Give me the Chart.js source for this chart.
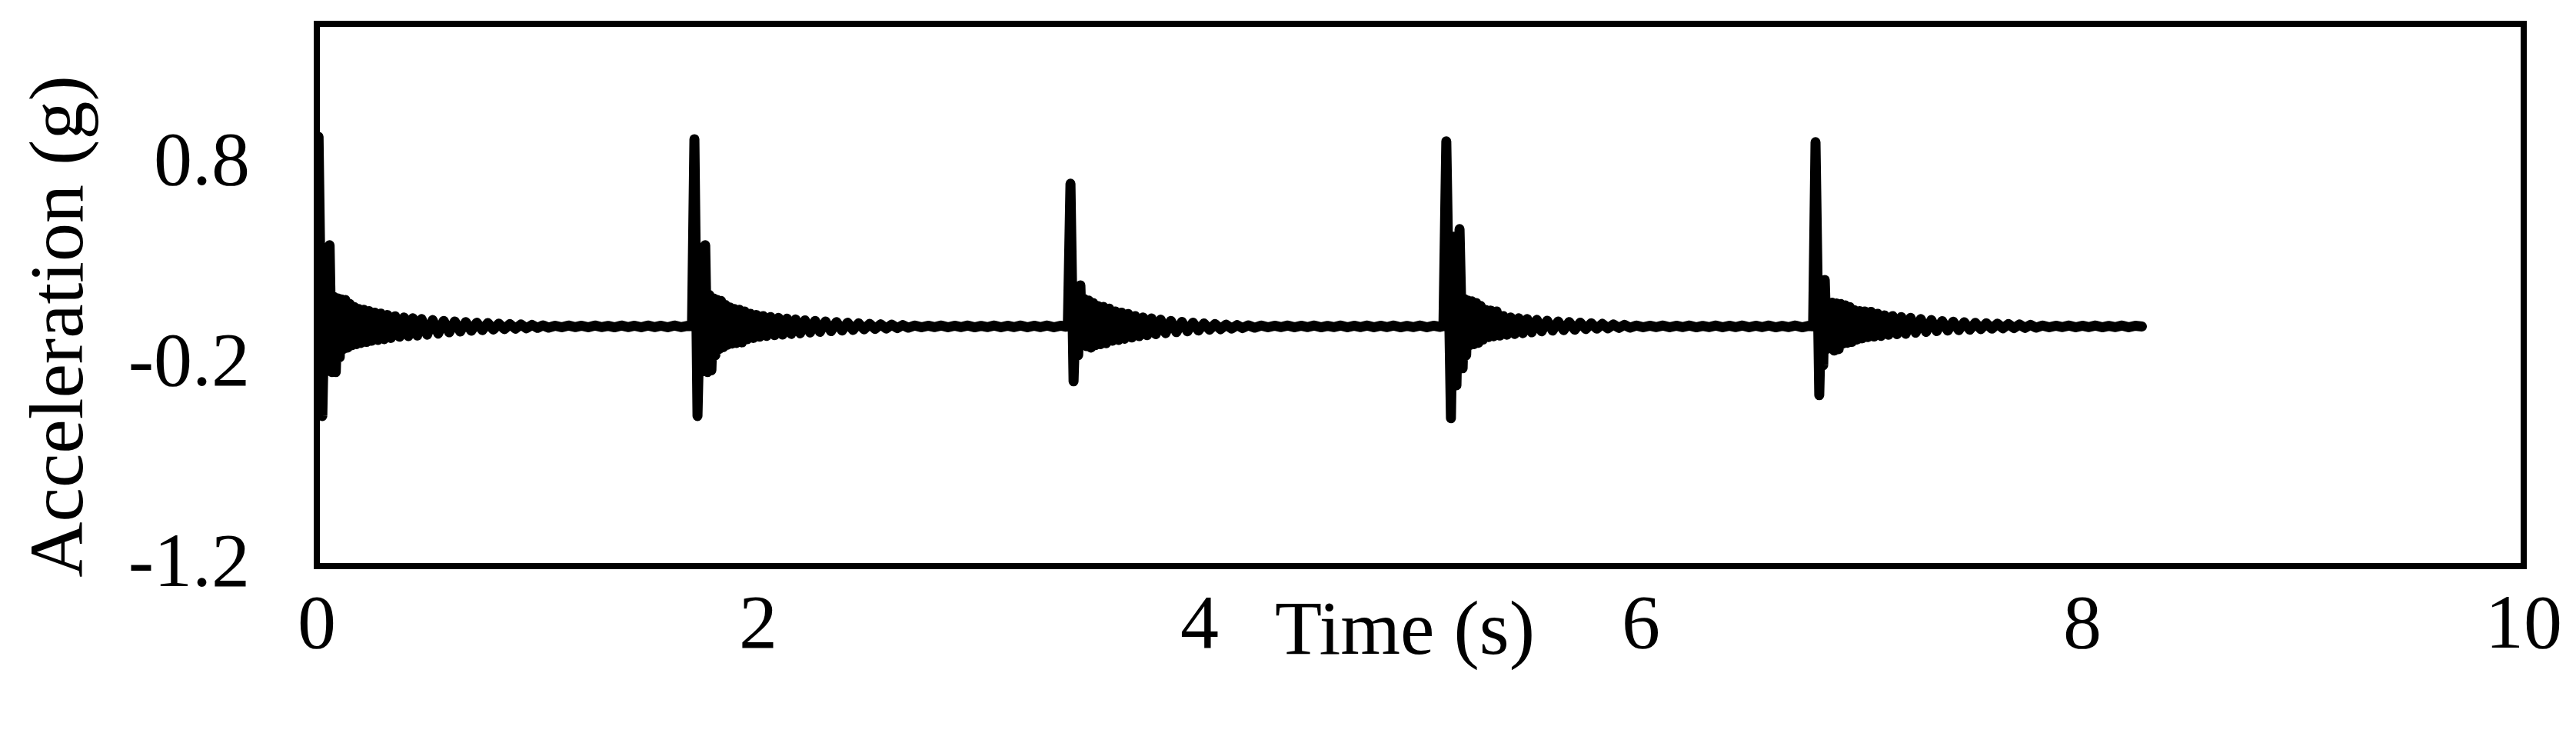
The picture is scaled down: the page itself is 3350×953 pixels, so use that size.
<!DOCTYPE html>
<html>
<head>
<meta charset="utf-8">
<title>Acceleration vs time</title>
<script src="https://cdn.jsdelivr.net/npm/chart.js@4.4.1/dist/chart.umd.min.js"></script>
<style>
  html, body { margin: 0; padding: 0; background: #fff; }
  canvas { display: block; }
</style>
</head>
<body>
<canvas id="accel-chart" width="3350" height="953"></canvas>
<script>
// axis ticks
const xTicks = [0, 2, 4, 6, 8, 10];
const yTicks = [-1.2, -0.2, 0.8];

// readings taken off the trace, one array per impact: [time (s), acceleration (g)]
const hit1 = [
  [0.000, -0.006], [0.008, 0.938], [0.025, -0.453], [0.040, 0.370], [0.048, -0.220], [0.058, 0.398], [0.068, -0.234], [0.078, 0.140], [0.086, -0.234], [0.096, 0.133],
  [0.104, -0.160], [0.112, 0.128], [0.120, -0.120], [0.130, 0.125], [0.140, -0.112], [0.150, 0.105], [0.160, -0.100], [0.170, 0.090], [0.180, -0.095], [0.190, 0.080],
  [0.200, -0.089], [0.212, 0.076], [0.224, -0.084], [0.236, 0.070], [0.248, -0.078], [0.262, 0.062], [0.276, -0.074], [0.290, 0.057], [0.305, -0.070], [0.320, 0.050],
  [0.335, -0.064], [0.355, 0.044], [0.375, -0.058], [0.395, 0.038], [0.415, -0.055], [0.435, 0.034], [0.455, -0.052], [0.475, 0.030], [0.500, -0.048], [0.525, 0.025],
  [0.550, -0.042], [0.575, 0.021], [0.600, -0.036], [0.625, 0.018], [0.650, -0.032], [0.675, 0.015], [0.700, -0.028], [0.725, 0.012], [0.750, -0.025], [0.775, 0.010],
  [0.800, -0.022], [0.825, 0.007], [0.850, -0.020], [0.875, 0.005], [0.900, -0.018], [0.925, 0.003], [0.950, -0.016], [0.975, 0.001], [1.000, -0.014], [1.025, -0.001],
  [1.050, -0.013], [1.080, -0.003], [1.110, -0.011], [1.140, -0.002], [1.170, -0.010], [1.200, -0.003], [1.230, -0.011], [1.260, -0.002], [1.290, -0.010], [1.320, -0.004],
  [1.350, -0.011], [1.380, -0.002], [1.410, -0.010], [1.440, -0.003], [1.470, -0.011], [1.500, -0.002], [1.530, -0.010], [1.560, -0.003], [1.590, -0.011], [1.620, -0.002],
  [1.650, -0.010], [1.680, -0.004]
];

const hit2 = [
  [1.700, -0.005], [1.711, 0.926], [1.725, -0.453], [1.742, 0.360], [1.750, -0.230], [1.760, 0.398], [1.770, -0.234], [1.779, 0.150], [1.788, -0.225], [1.798, 0.133],
  [1.806, -0.150], [1.815, 0.125], [1.823, -0.120], [1.832, 0.120], [1.842, -0.110], [1.852, 0.100], [1.862, -0.098], [1.872, 0.088], [1.882, -0.092], [1.892, 0.080],
  [1.902, -0.089], [1.914, 0.076], [1.926, -0.086], [1.938, 0.068], [1.950, -0.070], [1.964, 0.056], [1.978, -0.064], [1.992, 0.050], [2.006, -0.058], [2.022, 0.045],
  [2.038, -0.054], [2.056, 0.040], [2.074, -0.050], [2.092, 0.036], [2.110, -0.047], [2.130, 0.032], [2.150, -0.044], [2.170, 0.028], [2.190, -0.041], [2.212, 0.024],
  [2.235, -0.037], [2.258, 0.021], [2.280, -0.034], [2.305, 0.018], [2.330, -0.030], [2.355, 0.015], [2.380, -0.027], [2.405, 0.012], [2.430, -0.024], [2.455, 0.009],
  [2.480, -0.021], [2.505, 0.006], [2.530, -0.019], [2.555, 0.004], [2.580, -0.017], [2.605, 0.002], [2.630, -0.015], [2.655, 0.000], [2.680, -0.013], [2.710, -0.002],
  [2.740, -0.011], [2.770, -0.003], [2.800, -0.010], [2.830, -0.002], [2.860, -0.011], [2.890, -0.003], [2.920, -0.010], [2.950, -0.002], [2.980, -0.011], [3.010, -0.004],
  [3.040, -0.010], [3.070, -0.002], [3.100, -0.011], [3.130, -0.003], [3.160, -0.010], [3.190, -0.002], [3.220, -0.011], [3.250, -0.003], [3.280, -0.010], [3.310, -0.002],
  [3.340, -0.011], [3.370, -0.003], [3.395, -0.008]
];

const hit3 = [
  [3.403, -0.006], [3.415, 0.704], [3.429, -0.280], [3.442, 0.180], [3.450, -0.150], [3.460, 0.198], [3.468, -0.093], [3.478, 0.130], [3.488, -0.105], [3.498, 0.122],
  [3.508, -0.112], [3.518, 0.110], [3.528, -0.100], [3.540, 0.095], [3.552, -0.095], [3.564, 0.091], [3.576, -0.090], [3.590, 0.082], [3.604, -0.078], [3.618, 0.068],
  [3.632, -0.074], [3.646, 0.062], [3.660, -0.068], [3.676, 0.055], [3.692, -0.062], [3.708, 0.045], [3.726, -0.055], [3.744, 0.038], [3.762, -0.050], [3.782, 0.033],
  [3.802, -0.045], [3.824, 0.027], [3.846, -0.040], [3.870, 0.021], [3.895, -0.035], [3.920, 0.016], [3.945, -0.031], [3.970, 0.012], [3.995, -0.027], [4.020, 0.008],
  [4.045, -0.023], [4.070, 0.005], [4.095, -0.020], [4.120, 0.002], [4.145, -0.017], [4.170, 0.000], [4.195, -0.015], [4.220, -0.001], [4.250, -0.013], [4.280, -0.002],
  [4.310, -0.011], [4.340, -0.003], [4.370, -0.010], [4.400, -0.002], [4.430, -0.011], [4.460, -0.003], [4.490, -0.010], [4.520, -0.002], [4.550, -0.011], [4.580, -0.004],
  [4.610, -0.010], [4.640, -0.002], [4.670, -0.011], [4.700, -0.003], [4.730, -0.010], [4.760, -0.002], [4.790, -0.011], [4.820, -0.003], [4.850, -0.010], [4.880, -0.002],
  [4.910, -0.011], [4.940, -0.004], [4.970, -0.010], [5.000, -0.002], [5.030, -0.011], [5.060, -0.003], [5.090, -0.009]
];

const hit4 = [
  [5.105, -0.005], [5.118, 0.915], [5.139, -0.464], [5.152, 0.440], [5.164, -0.300], [5.178, 0.478], [5.192, -0.215], [5.200, 0.130], [5.208, -0.150], [5.216, 0.122],
  [5.224, -0.100], [5.234, 0.118], [5.244, -0.095], [5.254, 0.110], [5.264, -0.088], [5.274, 0.095], [5.284, -0.072], [5.296, 0.075], [5.308, -0.060], [5.320, 0.072],
  [5.332, -0.056], [5.346, 0.068], [5.360, -0.052], [5.376, 0.045], [5.392, -0.048], [5.410, 0.038], [5.428, -0.044], [5.446, 0.034], [5.465, -0.040], [5.485, 0.030],
  [5.505, -0.036], [5.528, 0.026], [5.550, -0.031], [5.575, 0.022], [5.600, -0.027], [5.625, 0.018], [5.650, -0.025], [5.675, 0.015], [5.700, -0.023], [5.725, 0.012],
  [5.750, -0.020], [5.775, 0.009], [5.800, -0.018], [5.825, 0.006], [5.850, -0.016], [5.875, 0.003], [5.900, -0.014], [5.925, 0.001], [5.950, -0.013], [5.980, -0.002],
  [6.010, -0.011], [6.040, -0.003], [6.070, -0.010], [6.100, -0.002], [6.130, -0.011], [6.160, -0.003], [6.190, -0.010], [6.220, -0.002], [6.250, -0.011], [6.280, -0.004],
  [6.310, -0.010], [6.340, -0.002], [6.370, -0.011], [6.400, -0.003], [6.430, -0.010], [6.460, -0.002], [6.490, -0.011], [6.520, -0.003], [6.550, -0.010], [6.580, -0.002],
  [6.610, -0.011], [6.640, -0.004], [6.670, -0.010], [6.700, -0.002], [6.730, -0.011], [6.760, -0.004]
];

const hit5 = [
  [6.780, -0.006], [6.791, 0.911], [6.808, -0.349], [6.820, 0.200], [6.826, -0.200], [6.833, 0.225], [6.842, -0.120], [6.850, 0.110], [6.858, -0.115], [6.866, 0.112],
  [6.876, -0.127], [6.886, 0.108], [6.896, -0.120], [6.906, 0.105], [6.916, -0.092], [6.926, 0.098], [6.936, -0.088], [6.946, 0.090], [6.956, -0.084], [6.966, 0.074],
  [6.978, -0.072], [6.990, 0.070], [7.002, -0.066], [7.014, 0.068], [7.028, -0.060], [7.042, 0.066], [7.056, -0.057], [7.072, 0.056], [7.088, -0.054], [7.104, 0.048],
  [7.122, -0.048], [7.140, 0.045], [7.160, -0.045], [7.180, 0.040], [7.200, -0.043], [7.222, 0.036], [7.245, -0.038], [7.268, 0.030], [7.292, -0.034], [7.316, 0.025],
  [7.340, -0.030], [7.365, 0.020], [7.390, -0.027], [7.415, 0.017], [7.440, -0.025], [7.465, 0.014], [7.490, -0.023], [7.515, 0.011], [7.540, -0.020], [7.565, 0.009],
  [7.590, -0.018], [7.615, 0.007], [7.640, -0.016], [7.665, 0.005], [7.690, -0.015], [7.715, 0.003], [7.740, -0.014], [7.765, 0.001], [7.790, -0.013], [7.820, -0.002],
  [7.850, -0.011], [7.880, -0.003], [7.910, -0.010], [7.940, -0.002], [7.970, -0.011], [8.000, -0.003], [8.030, -0.010], [8.060, -0.002], [8.090, -0.011], [8.120, -0.004],
  [8.150, -0.010], [8.180, -0.002], [8.210, -0.011], [8.240, -0.003], [8.270, -0.007]
];

const points = [].concat(hit1, hit2, hit3, hit4, hit5).map(([t, a]) => ({ x: t, y: a }));

// box round the plot area
const frame = {
  id: 'frame',
  beforeDatasetsDraw(chart) {
    const { ctx, chartArea: a } = chart;
    ctx.save();
    ctx.lineWidth = 8;
    ctx.strokeStyle = '#000';
    ctx.strokeRect(a.left, a.top, a.right - a.left, a.bottom - a.top);
    ctx.restore();
  }
};

// axis titles: the x title sits in the tick label row, between 4 and 6
const axisTitles = {
  id: 'axisTitles',
  afterDraw(chart) {
    const { ctx, chartArea: a, scales } = chart;
    ctx.save();
    ctx.fillStyle = '#000';
    ctx.font = '100px "Liberation Serif"';
    ctx.textAlign = 'center';
    ctx.textBaseline = 'alphabetic';
    ctx.fillText('Time (s)', scales.x.getPixelForValue(4.93), a.bottom + 114);
    ctx.translate(107, (a.top + a.bottom) / 2 + 41);
    ctx.rotate(-Math.PI / 2);
    ctx.fillText('Acceleration (g)', 0, 0);
    ctx.restore();
  }
};

Chart.defaults.font.family = '"Liberation Serif", "Times New Roman", serif';
Chart.defaults.font.size = 100;
Chart.defaults.color = '#000';

new Chart(document.getElementById('accel-chart'), {
  type: 'line',
  data: {
    datasets: [{
      label: 'Acceleration',
      data: points,
      borderColor: '#000',
      borderWidth: 13,
      borderJoinStyle: 'round',
      borderCapStyle: 'round',
      pointRadius: 0,
      tension: 0,
      fill: false
    }]
  },
  options: {
    responsive: false,
    animation: false,
    devicePixelRatio: 1,
    layout: { padding: { top: 31, right: 68, bottom: 0, left: 0 } },
    plugins: {
      legend: { display: false },
      tooltip: { enabled: false }
    },
    scales: {
      x: {
        type: 'linear',
        min: 0,
        max: 10,
        grid: { display: false, drawTicks: false },
        border: { display: false },
        ticks: { padding: 20, maxRotation: 0, autoSkip: false, callback: v => String(v) },
        afterBuildTicks: s => { s.ticks = xTicks.map(v => ({ value: v })); },
        afterFit: s => { s.height = 217; s.paddingLeft = 0; s.paddingRight = 0; }
      },
      y: {
        type: 'linear',
        min: -1.2,
        max: 1.5,
        grid: { display: false, drawTicks: false },
        border: { display: false },
        ticks: { padding: 87, autoSkip: false, callback: v => v.toFixed(1) },
        afterBuildTicks: s => { s.ticks = yTicks.map(v => ({ value: v })); },
        afterFit: s => { s.width = 412; s.paddingTop = 0; s.paddingBottom = 0; }
      }
    }
  },
  plugins: [frame, axisTitles]
});
</script>
</body>
</html>
